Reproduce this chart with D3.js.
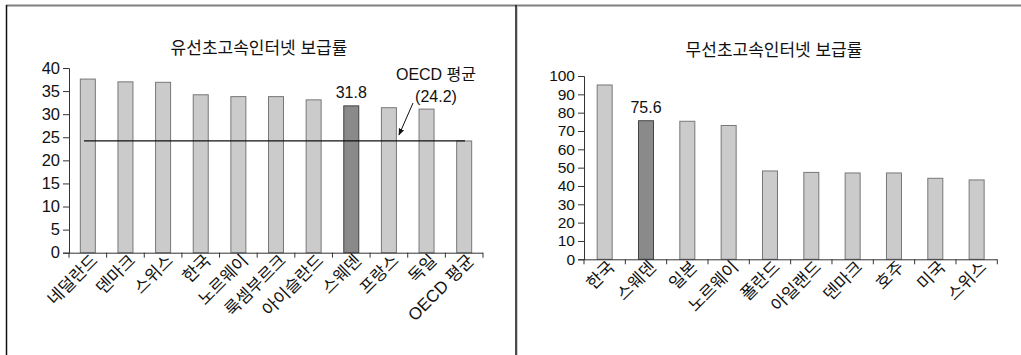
<!DOCTYPE html>
<html>
<head>
<meta charset="utf-8">
<script src="https://cdn.jsdelivr.net/npm/d3@7"></script>
<style>
  body { margin: 0; background: #fff; }
  svg text { font-family: "Liberation Sans", "Noto Sans CJK KR", sans-serif; fill: #111; }
</style>
</head>
<body>
<div id="chart"></div>
<script>
// wired broadband (left panel)
var wiredCountries = ["네덜란드", "덴마크", "스위스", "한국", "노르웨이", "룩셈부르크", "아이슬란드", "스웨덴", "프랑스", "독일", "OECD 평균"];
var wiredValues = [37.6, 37.0, 36.9, 34.2, 33.8, 33.8, 33.1, 31.8, 31.4, 31.1, 24.2];
var wiredTicks = [0, 5, 10, 15, 20, 25, 30, 35, 40];
var wiredAvg = 24.2;

// wireless broadband (right panel)
var wirelessCountries = ["한국", "스웨덴", "일본", "노르웨이", "폴란드", "아일랜드", "덴마크", "호주", "미국", "스위스"];
var wirelessValues = [95.1, 75.6, 75.3, 73.0, 48.2, 47.4, 47.1, 47.1, 44.2, 43.3];
var wirelessTicks = [0, 10, 20, 30, 40, 50, 60, 70, 80, 90, 100];

var highlight = "스웨덴";

var W = 1021, H = 355;
var svg = d3.select("#chart").append("svg")
    .attr("width", W)
    .attr("height", H);

// frame lines
svg.append("line").attr("x1", 6).attr("x2", W).attr("y1", 5.5).attr("y2", 5.5)
    .attr("stroke", "#808080").attr("stroke-width", 2);
svg.append("line").attr("x1", 6.5).attr("x2", 6.5).attr("y1", 5).attr("y2", H)
    .attr("stroke", "#111").attr("stroke-width", 1.5);
svg.append("line").attr("x1", 516).attr("x2", 516).attr("y1", 5).attr("y2", H)
    .attr("stroke", "#111").attr("stroke-width", 1.5);
svg.append("line").attr("x1", 517.5).attr("x2", 517.5).attr("y1", 6).attr("y2", H)
    .attr("stroke", "#ccc").attr("stroke-width", 1);

function drawPanel(opt) {
  var g = svg.append("g");

  var x = d3.scaleBand().domain(opt.cats).range([opt.x0, opt.x1]).padding(0);
  var y = d3.scaleLinear().domain([0, opt.max]).range([opt.y0, opt.y1]);
  var barW = 15;

  // title
  g.append("text")
    .attr("x", opt.titleX).attr("y", opt.titleY)
    .attr("text-anchor", "middle")
    .style("font-size", "17px")
    .text(opt.title);

  // bars
  g.selectAll("rect.bar")
    .data(opt.cats)
    .enter().append("rect")
    .attr("class", "bar")
    .attr("x", function(d) { return x(d) + x.bandwidth() / 2 - barW / 2; })
    .attr("width", barW)
    .attr("y", function(d, i) { return y(opt.vals[i]); })
    .attr("height", function(d, i) { return y(0) - y(opt.vals[i]); })
    .attr("fill", function(d) { return d === highlight ? "#8a8a8a" : "#cbcbcb"; })
    .attr("stroke", function(d) { return d === highlight ? "#444" : "#777"; })
    .attr("stroke-width", 1);

  // y axis
  var yAxis = g.append("g")
    .attr("transform", "translate(" + opt.x0 + ",0)")
    .call(d3.axisLeft(y).tickValues(opt.ticks).tickSize(6).tickPadding(3).tickFormat(d3.format("d")));
  yAxis.select(".domain").attr("stroke", "#333");
  yAxis.selectAll(".tick line").attr("stroke", "#333");
  yAxis.selectAll("text")
    .style("font-size", opt.tickFont)
    .style("font-family", '"Liberation Sans", sans-serif')
    .attr("fill", "#111");

  // x axis
  var xAxis = g.append("g")
    .attr("transform", "translate(0," + opt.y0 + ")")
    .call(d3.axisBottom(x).tickSize(0).tickFormat(""));
  xAxis.select(".domain").attr("d", "M" + opt.x0 + ",0.5H" + opt.x1).attr("stroke", "#333");

  // boundary tick marks
  var bounds = opt.cats.map(function(d) { return x(d); }).concat([opt.x1]);
  g.selectAll("line.btick")
    .data(bounds)
    .enter().append("line")
    .attr("x1", function(d) { return d; }).attr("x2", function(d) { return d; })
    .attr("y1", opt.y0).attr("y2", opt.y0 + 5)
    .attr("stroke", "#333");

  // category labels
  g.selectAll("text.cat")
    .data(opt.cats)
    .enter().append("text")
    .attr("class", "cat")
    .attr("text-anchor", "end")
    .style("font-size", "17px")
    .attr("transform", function(d) {
      return "translate(" + (x(d) + x.bandwidth() / 2 + 11) + "," + (opt.y0 + 9) + ") rotate(-45)";
    })
    .text(function(d) { return d; });

  // value label on highlight bar
  var hi = opt.cats.indexOf(highlight);
  g.append("text")
    .attr("x", x(highlight) + x.bandwidth() / 2)
    .attr("y", y(opt.vals[hi]) - 8)
    .attr("text-anchor", "middle")
    .style("font-size", "16px")
    .text(opt.vals[hi].toFixed(1));

  return { g: g, x: x, y: y };
}

var left = drawPanel({
  cats: wiredCountries, vals: wiredValues, ticks: wiredTicks, max: 40,
  x0: 69, x1: 483, y0: 252.7, y1: 68,
  title: "유선초고속인터넷 보급률", titleX: 259, titleY: 54, tickFont: "16.5px"
});

// OECD average line and annotation
left.g.append("line")
  .attr("x1", 84).attr("x2", 465)
  .attr("y1", left.y(wiredAvg)).attr("y2", left.y(wiredAvg))
  .attr("stroke", "#111").attr("stroke-width", 1.3);

svg.append("defs").append("marker")
  .attr("id", "arrow").attr("viewBox", "0 0 10 10")
  .attr("refX", 9).attr("refY", 5)
  .attr("markerWidth", 7).attr("markerHeight", 7)
  .attr("orient", "auto")
  .append("path").attr("d", "M0,1L10,5L0,9Z").attr("fill", "#111");

left.g.append("line")
  .attr("x1", 413).attr("y1", 103)
  .attr("x2", 399).attr("y2", left.y(wiredAvg) - 6)
  .attr("stroke", "#111").attr("stroke-width", 1)
  .attr("marker-end", "url(#arrow)");

left.g.append("text")
  .attr("x", 436).attr("y", 80)
  .attr("text-anchor", "middle")
  .style("font-size", "16px")
  .text("OECD 평균");
left.g.append("text")
  .attr("x", 436).attr("y", 102)
  .attr("text-anchor", "middle")
  .style("font-size", "16px")
  .text("(" + wiredAvg.toFixed(1) + ")");

drawPanel({
  cats: wirelessCountries, vals: wirelessValues, ticks: wirelessTicks, max: 100,
  x0: 584, x1: 997.3, y0: 259.3, y1: 76,
  title: "무선초고속인터넷 보급률", titleX: 774, titleY: 56, tickFont: "15.5px"
});
</script>
</body>
</html>
